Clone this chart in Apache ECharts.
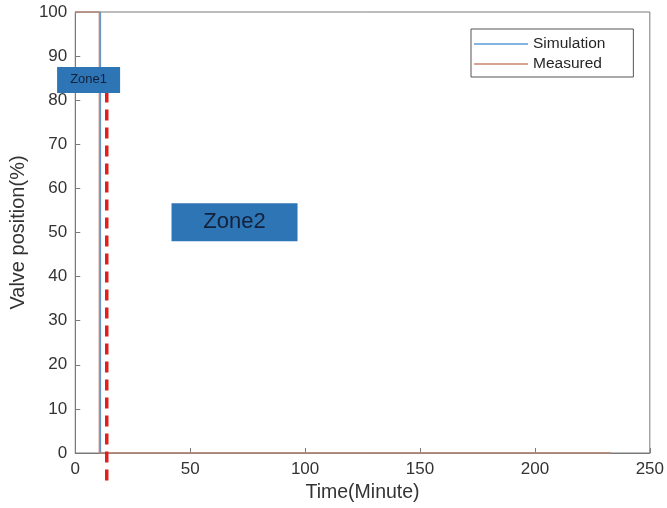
<!DOCTYPE html>
<html>
<head>
<meta charset="utf-8">
<script src="https://cdn.jsdelivr.net/npm/echarts@6/dist/echarts.min.js"></script>
<style>
  html, body { margin: 0; padding: 0; background: #fff; }
  #chart { width: 667px; height: 508px; }
</style>
</head>
<body>
<div id="chart"></div>
<script>
// time (minutes) and valve position (%)
const simTime = [0, 11, 11, 233];
const simValve = [100, 100, 0, 0];
const measTime = [0, 10.5, 10.5, 233];
const measValve = [100, 100, 0, 0];
const xTicks = [0, 50, 100, 150, 200, 250];
const yTicks = [0, 10, 20, 30, 40, 50, 60, 70, 80, 90, 100];
const zoneBoundary = 13.7; // red dashed line, minutes

const pairs = (xs, ys) => xs.map((x, i) => [x, ys[i]]);

const chart = echarts.init(document.getElementById('chart'));
const font = 'Liberation Sans, Arial, sans-serif';
const axisGray = '#7a7a7a';

chart.setOption({
    animation: false,
    grid: {
        left: 75, right: 15, top: 12, bottom: 55,
        show: true, borderColor: axisGray, borderWidth: 1,
        backgroundColor: 'transparent'
    },
    legend: {
        orient: 'vertical',
        left: 471, top: 29,
        padding: [7, 28, 5, 3],
        itemGap: 4,
        itemWidth: 54,
        itemHeight: 1.5,
        icon: 'rect',
        borderColor: '#555', borderWidth: 1,
        backgroundColor: '#fff',
        textStyle: { fontFamily: font, fontSize: 15.5, color: '#262626' },
        data: ['Simulation', 'Measured']
    },
    xAxis: {
        type: 'value',
        min: xTicks[0], max: xTicks[xTicks.length - 1], interval: 50,
        name: 'Time(Minute)', nameLocation: 'middle', nameGap: 30,
        nameTextStyle: { fontFamily: font, fontSize: 19.5, color: '#333' },
        axisLine: { show: true, lineStyle: { color: axisGray } },
        axisTick: { show: true, inside: true, length: 5, lineStyle: { color: axisGray } },
        axisLabel: { fontFamily: font, fontSize: 17, color: '#333', margin: 8 },
        splitLine: { show: false }
    },
    yAxis: {
        type: 'value',
        min: yTicks[0], max: yTicks[yTicks.length - 1], interval: 10,
        name: 'Valve position(%)', nameLocation: 'middle', nameGap: 42,
        nameTextStyle: { fontFamily: font, fontSize: 20, color: '#333' },
        axisLine: { show: true, lineStyle: { color: axisGray } },
        axisTick: { show: true, inside: true, length: 5, lineStyle: { color: axisGray } },
        axisLabel: { fontFamily: font, fontSize: 17, color: '#333', margin: 8 },
        splitLine: { show: false }
    },
    series: [
        {
            name: 'Simulation', type: 'line', showSymbol: false,
            data: pairs(simTime, simValve),
            lineStyle: { color: '#5b9bd5', width: 1.2 },
            itemStyle: { color: '#5b9bd5' }
        },
        {
            name: 'Measured', type: 'line', showSymbol: false,
            data: pairs(measTime, measValve),
            lineStyle: { color: '#c8876a', width: 1.5 },
            itemStyle: { color: '#c8876a' }
        }
    ]
});

// annotations placed through the chart's own scales
const toPx = (x, y) => chart.convertToPixel({ gridIndex: 0 }, [x, y]);
const dashTop = toPx(zoneBoundary, 82);
const dashBottom = toPx(zoneBoundary, -6.3);
const zone1 = toPx(5.8, 84.6);
const zone2 = toPx(69.3, 52.3);

function zoneBox(center, w, h, label, size) {
    return {
        type: 'group',
        z: 110,
        children: [
            {
                type: 'rect', z: 110,
                shape: { x: center[0] - w / 2, y: center[1] - h / 2, width: w, height: h },
                style: { fill: '#2e75b6' }
            },
            {
                type: 'text', z: 111,
                x: center[0], y: center[1],
                style: {
                    text: label, fill: '#13213a', font: size + 'px ' + font,
                    textAlign: 'center', textVerticalAlign: 'middle'
                }
            }
        ]
    };
}

chart.setOption({
    graphic: [
        {
            type: 'line',
            shape: { x1: dashTop[0], y1: dashTop[1], x2: dashBottom[0], y2: dashBottom[1] },
            style: { stroke: '#e0201c', lineWidth: 3.5, lineDash: [11, 7] },
            z: 100
        },
        zoneBox(zone1, 63, 26, 'Zone1', 13),
        zoneBox(zone2, 126, 38, 'Zone2', 22)
    ]
});
</script>
</body>
</html>
